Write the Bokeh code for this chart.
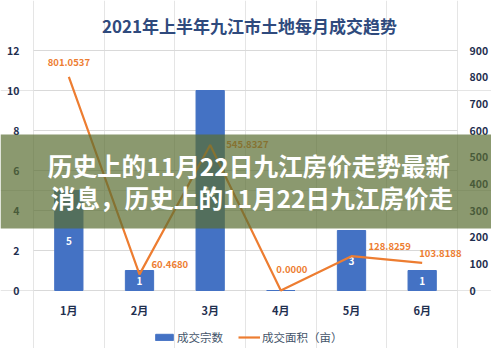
from bokeh.plotting import figure
from bokeh.models import (Range1d, Legend, LegendItem, Label, BoxAnnotation, ColumnDataSource)
from bokeh.core.properties import value
from bokeh.embed import file_html
from bokeh.resources import INLINE

months = ["1月", "2月", "3月", "4月", "5月", "6月"]
deals = [5, 1, 10, 0, 3, 1]
area = [801.0537, 60.4680, 545.8327, 0.0, 128.8259, 103.8188]
area_labels = ["801.0537", "60.4680", "545.8327", "0.0000", "128.8259", "103.8188"]
left_ticks = [0, 2, 4, 6, 8, 10, 12]
right_ticks = [0, 100, 200, 300, 400, 500, 600, 700, 800, 900]
title = "2021年上半年九江市土地每月成交趋势"
banner_lines = ["历史上的11月22日九江房价走势最新", "消息，历史上的11月22日九江房价走"]
legend_labels = ["成交宗数", "成交面积（亩）"]

# label placement (style)
lab_dx = [0, 12, 16, 11, 17, -3]
lab_dy = [-14, -10, 0, -21, -10, -9]
lab_align = ["center", "left", "left", "center", "left", "left"]

FONT = "Noto Sans CJK SC"
NAVY = "#1f2f4f"
BLUE = "#4472c4"
ORANGE = "#ed7d31"

LMAX, RMAX = 12, 900
ratio = RMAX / LMAX
y0, y1 = -2.9, 14.5
n = len(months)
p = figure(width=491, height=348, x_range=Range1d(-0.467, n + 0.481),
           y_range=Range1d(y0, y1), output_backend="svg", toolbar_location=None,
           x_axis_location=None, y_axis_location=None,
           min_border_left=0, min_border_right=0, min_border_top=0, min_border_bottom=0)
p.extra_y_ranges = {"right": Range1d(y0 * ratio, y1 * ratio)}
p.outline_line_color = None
p.background_fill_color = "white"

xc = [i + 0.5 for i in range(n)]

# grid lines across the plot area
p.segment(x0=[0] * len(left_ticks), x1=[n] * len(left_ticks), y0=left_ticks, y1=left_ticks,
          line_color="#d9d9d9", line_width=1)

# axis tick labels
tick_style = dict(text_font=value(FONT), text_font_size="10.5px", text_font_style="bold",
                  text_color=NAVY, text_baseline="middle")
p.text(x=[0] * len(left_ticks), y=left_ticks, text=[str(t) for t in left_ticks],
       x_offset=-14, text_align="right", **tick_style)
p.text(x=[n] * len(right_ticks), y=right_ticks, text=[str(t) for t in right_ticks],
       y_range_name="right", x_offset=12, text_align="left", **tick_style)
p.text(x=xc, y=[0] * n, text=months, y_offset=19, text_align="center",
       text_font=value(FONT), text_font_size="11px", text_font_style="bold",
       text_color=NAVY, text_baseline="middle")

src = ColumnDataSource(dict(x=xc, m=months, d=deals, half=[v / 2 for v in deals],
                            dl=[str(v) if v else "" for v in deals],
                            a=area, al=area_labels, dx=lab_dx, dy=lab_dy, align=lab_align))

bars = p.vbar(x="x", top="d", width=0.4, color=BLUE, source=src)
p.text(x="x", y="half", text="dl", source=src, text_color="white", text_font=value(FONT),
       text_font_size="10px", text_font_style="bold", text_align="center", text_baseline="middle")

line = p.line(x="x", y="a", y_range_name="right", line_color=ORANGE, line_width=2.2, source=src)
p.text(x="x", y="a", text="al", y_range_name="right", source=src, x_offset="dx", y_offset="dy",
       text_align="align", text_baseline="middle", text_color=ORANGE, text_font=value(FONT),
       text_font_size="9.5px", text_font_style="bold")

# title
p.add_layout(Label(x=249, x_units="screen", y=13.25, text=title, text_font=FONT,
                   text_font_size="17px", text_font_style="bold", text_color="#2f4a7d",
                   text_align="center", text_baseline="middle"))

legend = Legend(items=[LegendItem(label=legend_labels[0], renderers=[bars]),
                       LegendItem(label=legend_labels[1], renderers=[line])],
                orientation="horizontal", location=(153, 3), border_line_color=None,
                background_fill_alpha=0,
                label_text_font=FONT, label_text_font_size="11.5px", label_text_color="#44546a",
                glyph_width=22, glyph_height=8, spacing=15, label_standoff=2, padding=4, margin=0)
p.add_layout(legend, "center")

# overlay banner
p.add_layout(BoxAnnotation(bottom=3.1, top=7.8, fill_color="#5a6e32", fill_alpha=0.7,
                           line_color=None, level="overlay"))
for txt, xs, yv in zip(banner_lines, [248.5, 251.5], [6.3, 4.7]):
    p.add_layout(Label(x=xs, x_units="screen", y=yv, text=txt, text_font=FONT, text_font_size="24.6px",
                       text_font_style="bold", text_color="white", text_align="center",
                       text_baseline="middle", level="overlay"))

open("out.html", "w").write(file_html(p, INLINE))
